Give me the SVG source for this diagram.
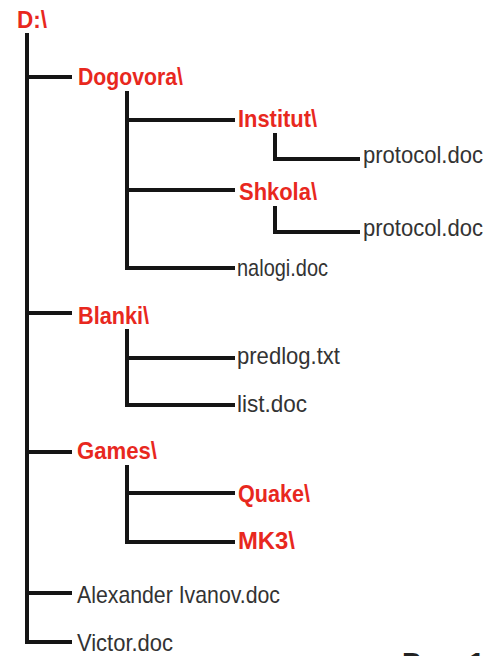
<svg xmlns="http://www.w3.org/2000/svg" width="497" height="656" viewBox="0 0 497 656">
<style>
.ln{stroke:#151515;stroke-width:4;fill:none;stroke-linecap:butt}
.dir{font-family:"Liberation Sans",Arial,sans-serif;font-weight:bold;font-size:24px;fill:#e8281e}
.file{font-family:"Liberation Sans",Arial,sans-serif;font-size:24px;fill:#333}
.cap{font-family:"Liberation Sans",Arial,sans-serif;font-weight:bold;font-size:28px;fill:#222}
</style>
<rect width="497" height="656" fill="#fff"/>
<g id="connectors">
<path class="ln" d="M27,33 V644 M27,77 H72 M27,313 H72 M27,452 H72 M27,593 H72 M27,642 H72"/>
<path class="ln" d="M127,91 V270 M127,120 H235 M127,190 H235 M127,268 H235"/>
<path class="ln" d="M275,133 V159 H360 M275,206 V232 H360"/>
<path class="ln" d="M127,329 V407 M127,358 H235 M127,405 H235"/>
<path class="ln" d="M127,465 V544 M127,493 H235 M127,542 H235"/>
</g>
<g id="n-root"><text class="dir" x="17" y="28" textLength="30" lengthAdjust="spacingAndGlyphs">D:\</text></g>
<g id="n-dogovora"><text class="dir" x="78" y="85" textLength="105" lengthAdjust="spacingAndGlyphs">Dogovora\</text></g>
<g id="n-institut"><text class="dir" x="238" y="127" textLength="79" lengthAdjust="spacingAndGlyphs">Institut\</text></g>
<g id="n-protocol1"><text class="file" x="363" y="163" textLength="120" lengthAdjust="spacingAndGlyphs">protocol.doc</text></g>
<g id="n-shkola"><text class="dir" x="239" y="200" textLength="78" lengthAdjust="spacingAndGlyphs">Shkola\</text></g>
<g id="n-protocol2"><text class="file" x="363" y="236" textLength="120" lengthAdjust="spacingAndGlyphs">protocol.doc</text></g>
<g id="n-nalogi"><text class="file" x="237" y="276" textLength="91" lengthAdjust="spacingAndGlyphs">nalogi.doc</text></g>
<g id="n-blanki"><text class="dir" x="78" y="324" textLength="71" lengthAdjust="spacingAndGlyphs">Blanki\</text></g>
<g id="n-predlog"><text class="file" x="237" y="364" textLength="103" lengthAdjust="spacingAndGlyphs">predlog.txt</text></g>
<g id="n-list"><text class="file" x="237" y="412" textLength="70" lengthAdjust="spacingAndGlyphs">list.doc</text></g>
<g id="n-games"><text class="dir" x="77" y="459" textLength="80" lengthAdjust="spacingAndGlyphs">Games\</text></g>
<g id="n-quake"><text class="dir" x="238" y="502" textLength="72" lengthAdjust="spacingAndGlyphs">Quake\</text></g>
<g id="n-mk3"><text class="dir" x="238" y="549" textLength="57" lengthAdjust="spacingAndGlyphs">MK3\</text></g>
<g id="n-alexander"><text class="file" x="77" y="603" textLength="203" lengthAdjust="spacingAndGlyphs">Alexander Ivanov.doc</text></g>
<g id="n-victor"><text class="file" x="77" y="651" textLength="96" lengthAdjust="spacingAndGlyphs">Victor.doc</text></g>
<g id="caption"><text class="cap" x="402" y="672">Рис. 1</text></g>
</svg>
